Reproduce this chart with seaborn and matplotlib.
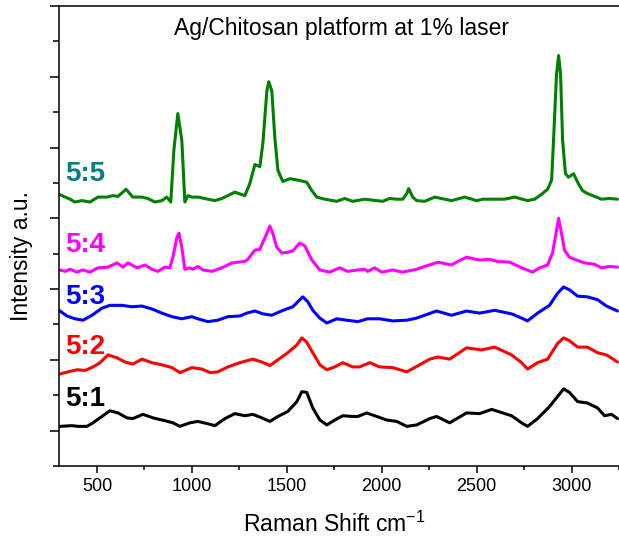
import numpy as np
import pandas as pd
import matplotlib
matplotlib.use("Agg")
import matplotlib.pyplot as plt
import seaborn as sns
from matplotlib.ticker import MultipleLocator, NullFormatter

# Spektrum Raman (sudah digeser vertikal seperti pada gambar)
shift_55 = [300, 316, 358, 384, 421, 463, 505, 553, 584, 611, 653, 689, 737, 768, 805, 842, 868, 889, 905, 926,
            947, 963, 979, 1000, 1032, 1084, 1121, 1158, 1189, 1226, 1279, 1305, 1332, 1358, 1374, 1395, 1405, 1421,
            1437, 1453, 1479, 1516, 1558, 1605, 1632, 1658, 1700, 1763, 1805, 1847, 1911, 1974, 2005, 2042, 2079,
            2111, 2132, 2142, 2163, 2184, 2226, 2279, 2332, 2368, 2437, 2500, 2532, 2595, 2647, 2700, 2768, 2805,
            2842, 2874, 2895, 2905, 2921, 2932, 2942, 2953, 2968, 2984, 3011, 3032, 3058, 3084, 3121, 3158, 3200, 3242]
int_55 = [3.34, 3.32, 3.27, 3.23, 3.25, 3.23, 3.30, 3.30, 3.32, 3.31, 3.41, 3.30, 3.30, 3.28, 3.23, 3.25, 3.30, 3.23,
          3.96, 4.48, 4.10, 3.23, 3.32, 3.30, 3.30, 3.27, 3.25, 3.28, 3.32, 3.37, 3.32, 3.49, 3.76, 3.73, 4.06, 4.80,
          4.93, 4.80, 4.14, 3.68, 3.52, 3.56, 3.54, 3.51, 3.39, 3.30, 3.27, 3.24, 3.28, 3.24, 3.27, 3.25, 3.24, 3.28,
          3.27, 3.27, 3.35, 3.42, 3.30, 3.25, 3.24, 3.30, 3.27, 3.25, 3.30, 3.25, 3.27, 3.27, 3.27, 3.30, 3.25, 3.27,
          3.34, 3.41, 3.54, 4.10, 5.04, 5.30, 5.04, 4.10, 3.63, 3.58, 3.63, 3.51, 3.39, 3.35, 3.31, 3.27, 3.28, 3.27]

shift_54 = [305, 332, 358, 395, 426, 463, 505, 558, 605, 637, 663, 711, 753, 789, 821, 858, 884, 900, 921, 932,
            947, 963, 989, 1005, 1032, 1058, 1105, 1158, 1211, 1279, 1295, 1332, 1358, 1384, 1411, 1426, 1447, 1474,
            1505, 1532, 1568, 1595, 1632, 1674, 1726, 1779, 1821, 1874, 1911, 1926, 1963, 2000, 2058, 2111, 2184,
            2226, 2263, 2295, 2368, 2400, 2447, 2516, 2568, 2611, 2674, 2737, 2795, 2832, 2874, 2900, 2921, 2932,
            2947, 2963, 2989, 3026, 3068, 3121, 3158, 3200, 3242]
int_54 = [2.27, 2.25, 2.28, 2.24, 2.27, 2.24, 2.30, 2.31, 2.37, 2.31, 2.37, 2.30, 2.34, 2.28, 2.25, 2.31, 2.30, 2.45,
          2.73, 2.79, 2.59, 2.28, 2.30, 2.28, 2.32, 2.27, 2.25, 2.30, 2.37, 2.39, 2.42, 2.55, 2.56, 2.72, 2.89, 2.79,
          2.59, 2.51, 2.52, 2.54, 2.65, 2.61, 2.41, 2.27, 2.24, 2.30, 2.25, 2.27, 2.28, 2.25, 2.30, 2.24, 2.27, 2.24,
          2.28, 2.32, 2.35, 2.38, 2.34, 2.39, 2.45, 2.41, 2.42, 2.39, 2.38, 2.30, 2.24, 2.30, 2.34, 2.51, 2.83, 3.00,
          2.79, 2.55, 2.45, 2.41, 2.37, 2.35, 2.30, 2.32, 2.31]

shift_53 = [300, 342, 384, 426, 474, 526, 568, 632, 684, 737, 789, 842, 895, 947, 1000, 1032, 1084, 1137, 1189,
            1253, 1289, 1332, 1374, 1421, 1463, 1500, 1532, 1558, 1584, 1611, 1637, 1674, 1711, 1763, 1816, 1874,
            1926, 1989, 2058, 2132, 2184, 2226, 2289, 2368, 2447, 2516, 2595, 2684, 2737, 2768, 2821, 2884, 2926,
            2958, 2989, 3032, 3084, 3137, 3184, 3242]
int_53 = [1.70, 1.62, 1.58, 1.56, 1.63, 1.73, 1.77, 1.77, 1.75, 1.76, 1.72, 1.66, 1.61, 1.58, 1.61, 1.58, 1.54, 1.56,
          1.61, 1.62, 1.66, 1.69, 1.65, 1.63, 1.68, 1.72, 1.75, 1.82, 1.89, 1.82, 1.70, 1.59, 1.52, 1.58, 1.56, 1.54,
          1.58, 1.58, 1.55, 1.56, 1.59, 1.63, 1.69, 1.63, 1.69, 1.66, 1.70, 1.65, 1.59, 1.55, 1.66, 1.77, 1.94, 2.03,
          1.99, 1.90, 1.89, 1.85, 1.76, 1.69]

shift_52 = [305, 347, 395, 437, 479, 516, 558, 605, 647, 689, 737, 789, 842, 895, 937, 1000, 1053, 1095, 1137,
            1189, 1253, 1321, 1368, 1411, 1453, 1505, 1553, 1579, 1605, 1637, 1674, 1711, 1753, 1795, 1847, 1884,
            1937, 1989, 2058, 2132, 2200, 2253, 2295, 2358, 2447, 2526, 2595, 2684, 2737, 2768, 2821, 2874, 2926,
            2958, 2989, 3032, 3084, 3137, 3184, 3242]
int_52 = [0.80, 0.83, 0.86, 0.85, 0.90, 0.96, 1.07, 1.03, 0.97, 0.94, 1.01, 0.96, 0.93, 0.89, 0.82, 0.89, 0.87, 0.82,
          0.83, 0.90, 0.96, 1.01, 0.97, 0.92, 1.00, 1.10, 1.21, 1.31, 1.25, 1.10, 0.93, 0.86, 0.90, 0.96, 0.90, 0.90,
          0.96, 0.90, 0.89, 0.83, 0.93, 1.01, 1.04, 1.01, 1.17, 1.14, 1.18, 1.07, 0.96, 0.87, 0.96, 1.01, 1.23, 1.31,
          1.27, 1.18, 1.18, 1.10, 1.07, 0.97]

shift_51 = [305, 368, 400, 447, 479, 526, 568, 611, 658, 689, 742, 795, 858, 900, 937, 989, 1032, 1079, 1121,
            1174, 1226, 1279, 1321, 1368, 1411, 1453, 1505, 1553, 1579, 1605, 1637, 1674, 1711, 1753, 1795, 1847,
            1874, 1921, 1974, 2026, 2079, 2132, 2184, 2253, 2289, 2358, 2447, 2516, 2579, 2684, 2737, 2768, 2821,
            2884, 2926, 2958, 2989, 3032, 3084, 3137, 3174, 3211, 3242]
int_51 = [0.06, 0.07, 0.06, 0.06, 0.11, 0.20, 0.28, 0.25, 0.18, 0.17, 0.23, 0.18, 0.14, 0.11, 0.06, 0.11, 0.13, 0.10,
          0.07, 0.17, 0.24, 0.21, 0.23, 0.18, 0.13, 0.20, 0.27, 0.41, 0.55, 0.54, 0.32, 0.15, 0.08, 0.15, 0.21, 0.20,
          0.20, 0.25, 0.20, 0.15, 0.13, 0.06, 0.08, 0.17, 0.20, 0.11, 0.25, 0.24, 0.30, 0.21, 0.11, 0.06, 0.17, 0.34,
          0.48, 0.59, 0.54, 0.41, 0.39, 0.32, 0.21, 0.23, 0.17]

samples = ['5:5', '5:4', '5:3', '5:2', '5:1']
line_colors = ['#008000', '#ff00ff', '#0000ff', '#ff0000', '#000000']
label_colors = ['#008080', '#ff00ff', '#0000ff', '#ff0000', '#000000']
label_y = [3.62, 2.62, 1.89, 1.18, 0.44]

shifts = [shift_55, shift_54, shift_53, shift_52, shift_51]
intens = [int_55, int_54, int_53, int_52, int_51]
df = pd.concat([pd.DataFrame({'Shift': s, 'Intensity': i, 'Sampel': n})
                for s, i, n in zip(shifts, intens, samples)], ignore_index=True)

sns.set_style('ticks')
plt.rcParams['font.family'] = ['Liberation Sans', 'DejaVu Sans']
plt.rcParams['mathtext.default'] = 'regular'
plt.rcParams['text.color'] = 'black'
plt.rcParams['axes.labelcolor'] = 'black'
plt.rcParams['xtick.color'] = 'black'
plt.rcParams['ytick.color'] = 'black'

fig = plt.figure(figsize=(6.19, 5.39), dpi=100)
ax = fig.add_axes([59 / 619, 73 / 539, 560 / 619, 460 / 539])

sns.lineplot(data=df, x='Shift', y='Intensity', hue='Sampel', palette=dict(zip(samples, line_colors)),
             estimator=None, sort=False, linewidth=2.2, legend=False, ax=ax)
for ln in ax.get_lines():
    ln.set_solid_joinstyle('round')

for n, c, y in zip(samples, label_colors, label_y):
    ax.text(332, y, n, color=c, fontsize=20, fontweight='bold', ha='left', va='center')

ax.text(0.505, 0.952, 'Ag/Chitosan platform at 1% laser', transform=ax.transAxes,
        ha='center', va='center', fontsize=16.5, color='black')

ax.set_xlim(300, 3250)
ax.set_ylim(-0.5, 6.0)
ax.xaxis.set_major_locator(MultipleLocator(500))
ax.xaxis.set_minor_locator(MultipleLocator(250))
ax.yaxis.set_major_locator(MultipleLocator(1))
ax.yaxis.set_minor_locator(MultipleLocator(0.5))
ax.yaxis.set_major_formatter(NullFormatter())
ax.tick_params(axis='x', which='major', direction='out', length=5, width=1.1, labelsize=13,
               colors='black', labelcolor='black')
ax.tick_params(axis='x', which='minor', direction='out', length=3, width=1.1, colors='black')
ax.tick_params(axis='y', which='major', direction='out', length=6.5, width=1.1, colors='black')
ax.tick_params(axis='y', which='minor', direction='out', length=4, width=1.1, colors='black')

for side in ['left', 'bottom', 'top']:
    ax.spines[side].set_linewidth(1.1)
    ax.spines[side].set_color('black')
ax.spines['right'].set_visible(False)

ax.set_xlabel('Raman Shift cm$^{-1}$', fontsize=16.5, color='black')
ax.set_ylabel('Intensity a.u.', fontsize=16.5, color='black')
ax.xaxis.set_label_coords(0.491, -0.1)
ax.yaxis.set_label_coords(-0.046, 0.457)

fig.savefig('out.png', dpi=100)
